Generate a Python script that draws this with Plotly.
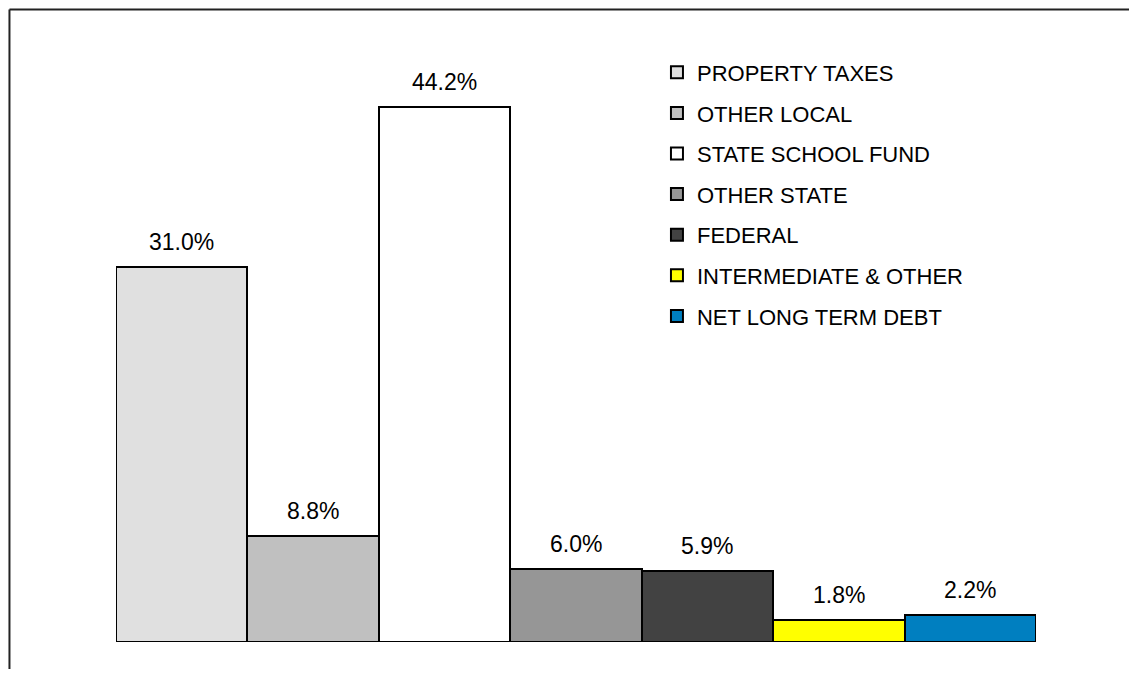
import plotly.graph_objects as go

categories = ["PROPERTY TAXES", "OTHER LOCAL", "STATE SCHOOL FUND", "OTHER STATE",
              "FEDERAL", "INTERMEDIATE & OTHER", "NET LONG TERM DEBT"]
values = [31.0, 8.8, 44.2, 6.0, 5.9, 1.8, 2.2]
labels = ["31.0%", "8.8%", "44.2%", "6.0%", "5.9%", "1.8%", "2.2%"]
colors = ["#E0E0E0", "#C0C0C0", "#FFFFFF", "#969696", "#424242", "#FFFF00", "#007FC0"]

FONT = "Liberation Sans, Arial, sans-serif"

fig = go.Figure()
for i, (cat, val, col) in enumerate(zip(categories, values, colors)):
    fig.add_trace(go.Bar(
        x=[i], y=[val], width=1, name=cat, legendgroup=cat,
        marker=dict(color=col, line=dict(color="#000000", width=2)),
        hoverinfo="skip",
    ))
    fig.add_annotation(x=i, y=val, text=labels[i], showarrow=False,
                       yanchor="bottom", yshift=10,
                       font=dict(family=FONT, size=23, color="#000000"))

# outer frame: only top and left edges fall inside the picture
fig.add_shape(type="line", xref="paper", yref="paper",
              x0=-0.1158, x1=1.3, y0=1.0455, y1=1.0455,
              line=dict(color="#222222", width=2))
fig.add_shape(type="line", xref="paper", yref="paper",
              x0=-0.1158, x1=-0.1158, y0=-0.3, y1=1.0455,
              line=dict(color="#222222", width=2))

fig.update_layout(
    width=1121, height=661,
    margin=dict(l=108, r=93, t=29, b=27),
    paper_bgcolor="white", plot_bgcolor="white",
    barmode="overlay", bargap=0,
    showlegend=True,
    legend=dict(x=0.588, y=0.976, xanchor="left", yanchor="top",
                xref="paper", yref="paper",
                traceorder="grouped", tracegroupgap=9, itemwidth=30,
                font=dict(family=FONT, size=22, color="#000000"),
                bgcolor="rgba(0,0,0,0)"),
    xaxis=dict(range=[-0.5, 6.5], visible=False, fixedrange=True),
    yaxis=dict(range=[0, 50], visible=False, fixedrange=True),
)

fig.write_html("out.html")
